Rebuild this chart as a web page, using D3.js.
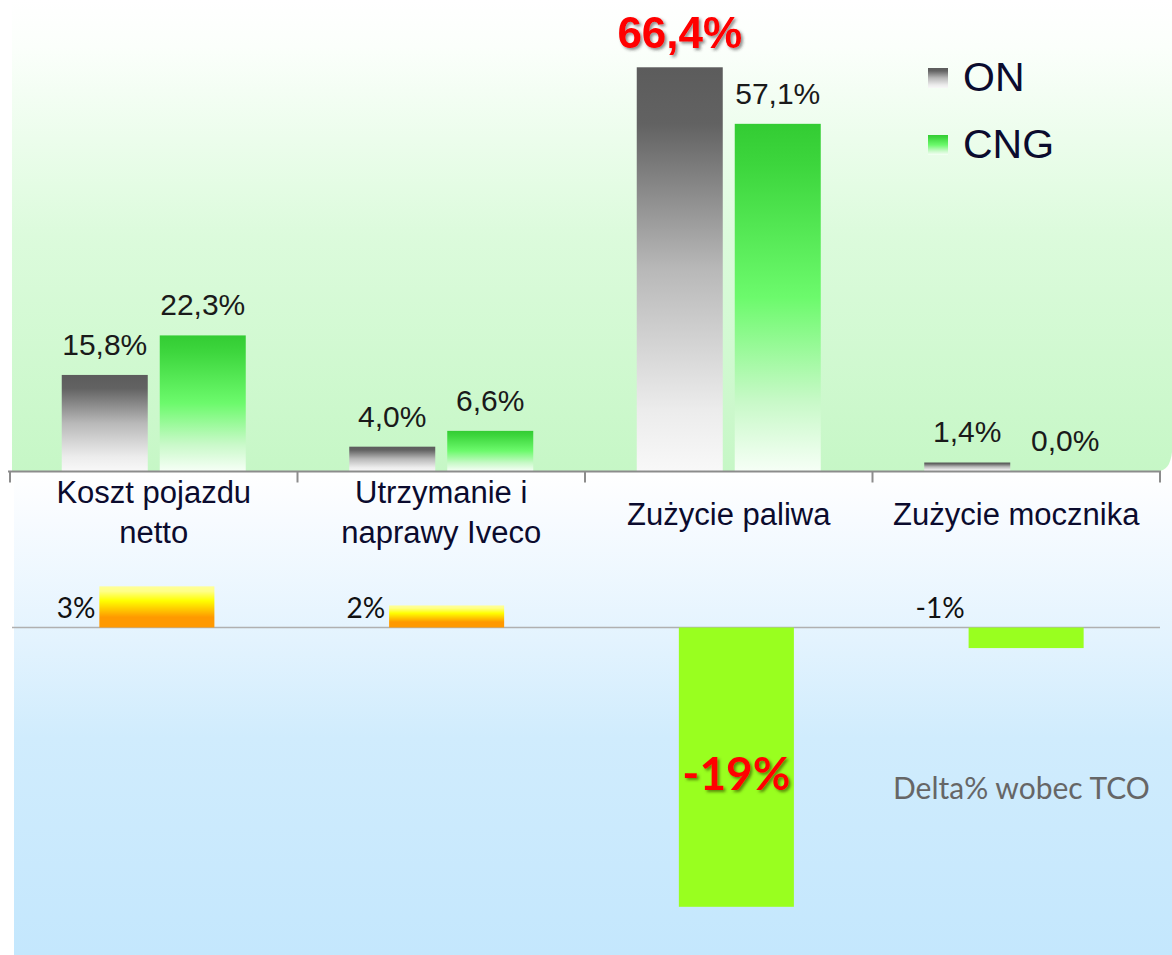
<!DOCTYPE html>
<html>
<head>
<meta charset="utf-8">
<script src="https://cdn.jsdelivr.net/npm/d3@7"></script>
<style>
  html, body { margin: 0; padding: 0; background: #ffffff; }
  svg { display: block; }
</style>
</head>
<body>
<script>
// ---------------- DATA ----------------
const categories = ["Koszt pojazdu netto", "Utrzymanie i naprawy Iveco", "Zużycie paliwa", "Zużycie mocznika"];
const categoryLines = [["Koszt pojazdu", "netto"], ["Utrzymanie i", "naprawy Iveco"], ["Zużycie paliwa"], ["Zużycie mocznika"]];
const series = ["ON", "CNG"];
const valuesON = [15.8, 4.0, 66.4, 1.4];
const valuesCNG = [22.3, 6.6, 57.1, 0.0];
const deltaValues = [2.8, 1.5, -19.0, -1.4];
const deltaTitle = "Delta% wobec TCO";

// ---------------- SETUP ----------------
const W = 1172, H = 955;
const svg = d3.select("body").append("svg").attr("width", W).attr("height", H);
const defs = svg.append("defs");

function vGrad(id, stops) {
  const g = defs.append("linearGradient").attr("id", id)
    .attr("x1", 0).attr("y1", 0).attr("x2", 0).attr("y2", 1);
  stops.forEach(s => g.append("stop").attr("offset", s[0]).attr("stop-color", s[1]));
}
vGrad("bgTop", [[0, "#ffffff"], [0.1, "#fbfffb"], [0.5, "#dcfbdc"], [1, "#c6f7c6"]]);
vGrad("bgBottom", [[0, "#ffffff"], [0.1, "#f7fbff"], [0.35, "#e3f3fe"], [0.55, "#d0ecfd"], [1, "#c4e7fd"]]);
vGrad("gradON", [[0, "#5c5c5c"], [0.14, "#626262"], [0.5, "#b8b8b8"], [0.85, "#ececec"], [1, "#f8f8f8"]]);
vGrad("gradCNG", [[0, "#33cc33"], [0.12, "#3dd63d"], [0.5, "#6cfa6c"], [0.8, "#c8f9c8"], [1, "#f6fff6"]]);
vGrad("gradOrange", [[0, "#ffff99"], [0.12, "#ffff88"], [0.35, "#ffff00"], [0.75, "#ff9900"], [1, "#ff9900"]]);

const shadow = defs.append("filter").attr("id", "shadow").attr("x", "-20%").attr("y", "-20%").attr("width", "150%").attr("height", "150%");
shadow.append("feDropShadow").attr("dx", 2).attr("dy", 2).attr("stdDeviation", 1.4)
  .attr("flood-color", "#333").attr("flood-opacity", 0.55);
const shadow2 = defs.append("filter").attr("id", "shadow2").attr("x", "-20%").attr("y", "-20%").attr("width", "150%").attr("height", "150%");
shadow2.append("feDropShadow").attr("dx", 2).attr("dy", 2).attr("stdDeviation", 1.4)
  .attr("flood-color", "#3a5a00").attr("flood-opacity", 0.7);

// ---------------- BACKGROUNDS ----------------
svg.append("path")
  .attr("d", "M12,0 H1172 V452 Q1170,471 1158,471 H12 Z")
  .attr("fill", "url(#bgTop)");
svg.append("rect").attr("x", 14).attr("y", 472).attr("width", W - 14).attr("height", H - 472)
  .attr("fill", "url(#bgBottom)");

// ---------------- TOP CHART ----------------
const fmt = d3.formatLocale({ decimal: ",", thousands: " ", grouping: [3], currency: ["", " zł"] }).format(".1f");
const xCat = d3.scaleBand().domain(categories).range([10, 1160]).padding(0);
const xGroup = d3.scaleBand().domain(categories).range([10, 1160]).paddingInner(0.36).paddingOuter(0.18);
const xSeries = d3.scaleBand().domain(series).range([0, xGroup.bandwidth()]).paddingInner(0.1224);
const y = d3.scaleLinear().domain([0, 70]).range([471, 471 - 70 * 6.08]);

const rows = categories.map((c, i) => ({ cat: c, i, vals: [{ s: "ON", v: valuesON[i] }, { s: "CNG", v: valuesCNG[i] }] }));
const maxON = d3.max(valuesON);
const isHi = d => d.s === "ON" && d.v === maxON;

const groups = svg.append("g").selectAll("g").data(rows).join("g")
  .attr("transform", d => `translate(${xGroup(d.cat)},0)`);

groups.selectAll("rect").data(d => d.vals).join("rect")
  .attr("x", d => xSeries(d.s))
  .attr("y", d => y(d.v))
  .attr("width", xSeries.bandwidth())
  .attr("height", d => y(0) - y(d.v))
  .attr("fill", d => d.s === "ON" ? "url(#gradON)" : "url(#gradCNG)");

groups.selectAll("text").data(d => d.vals).join("text")
  .attr("x", d => xSeries(d.s) + xSeries.bandwidth() / 2)
  .attr("y", d => y(d.v) - (isHi(d) ? 19 : 20))
  .attr("text-anchor", "middle")
  .attr("font-family", "'Liberation Sans', Arial, sans-serif")
  .attr("font-size", d => isHi(d) ? 44 : 30)
  .attr("font-weight", d => isHi(d) ? "bold" : "normal")
  .attr("fill", d => isHi(d) ? "#ff0000" : "#1a1a1a")
  .attr("filter", d => isHi(d) ? "url(#shadow)" : null)
  .text(d => fmt(d.v) + "%");

// axis
const axisY = 471.5;
svg.append("line").attr("x1", 8).attr("x2", 1161).attr("y1", axisY).attr("y2", axisY)
  .attr("stroke", "#8c8c8c").attr("stroke-width", 2);
const bounds = categories.map(c => xCat(c)).concat([xCat.range()[1]]);
svg.append("g").selectAll("line").data(bounds).join("line")
  .attr("x1", d => d).attr("x2", d => d).attr("y1", axisY).attr("y2", axisY + 11)
  .attr("stroke", "#8c8c8c").attr("stroke-width", 2);

// category labels
const catG = svg.append("g").selectAll("text").data(rows).join("text")
  .attr("text-anchor", "middle")
  .attr("font-family", "'Liberation Sans', Arial, sans-serif")
  .attr("font-size", 31)
  .attr("fill", "#0b0b2e");
catG.selectAll("tspan").data(d => categoryLines[d.i].map((t, k) => ({ t, k, n: categoryLines[d.i].length, cat: d.cat })))
  .join("tspan")
  .attr("x", d => xCat(d.cat) + xCat.bandwidth() / 2)
  .attr("y", d => d.n === 1 ? 525 : 503 + d.k * 40)
  .text(d => d.t);

// legend
const legend = svg.append("g").selectAll("g").data(series).join("g")
  .attr("transform", (d, i) => `translate(928, ${68 + i * 67})`);
legend.append("rect").attr("width", 20).attr("height", 20)
  .attr("fill", d => d === "ON" ? "url(#gradON)" : "url(#gradCNG)");
legend.append("text").attr("x", 35).attr("y", 23)
  .attr("font-family", "'Liberation Sans', Arial, sans-serif")
  .attr("font-size", 41).attr("fill", "#0b0b2e")
  .text(d => d);

// ---------------- BOTTOM CHART ----------------
const xd = d3.scaleBand().domain(categories).range([12, 1171]).paddingInner(0.603).paddingOuter(0.3015);
const yd = d3.scaleLinear().domain([-20, 5]).range([627.5 + 20 * 14.7, 627.5 - 5 * 14.7]);
const deltas = categories.map((c, i) => ({ cat: c, v: deltaValues[i] }));
const big = d => Math.abs(d.v) > 5;

svg.append("line").attr("x1", 12).attr("x2", 1160).attr("y1", yd(0)).attr("y2", yd(0))
  .attr("stroke", "#b0b0b0").attr("stroke-width", 1.5);

svg.append("g").selectAll("rect").data(deltas).join("rect")
  .attr("x", d => xd(d.cat))
  .attr("width", xd.bandwidth())
  .attr("y", d => yd(Math.max(0, d.v)))
  .attr("height", d => Math.abs(yd(d.v) - yd(0)))
  .attr("fill", d => d.v >= 0 ? "url(#gradOrange)" : "#99ff1f");

svg.append("g").selectAll("text").data(deltas).join("text")
  .attr("x", d => big(d) ? xd(d.cat) + xd.bandwidth() / 2 : xd(d.cat) - 4)
  .attr("y", d => big(d) ? (yd(0) + yd(d.v)) / 2 + 23 : 618)
  .attr("text-anchor", d => big(d) ? "middle" : "end")
  .attr("font-family", "Lato, 'Open Sans', sans-serif")
  .attr("font-size", d => big(d) ? 46 : 28)
  .attr("font-weight", d => big(d) ? "bold" : "normal")
  .attr("fill", d => big(d) ? "#ff0000" : "#111111")
  .attr("filter", d => big(d) ? "url(#shadow2)" : null)
  .text(d => Math.round(d.v) + "%");

svg.append("text").attr("x", 893).attr("y", 799)
  .attr("font-family", "Lato, 'Open Sans', sans-serif")
  .attr("font-size", 30).attr("fill", "#666666")
  .text(deltaTitle);
</script>
</body>
</html>
